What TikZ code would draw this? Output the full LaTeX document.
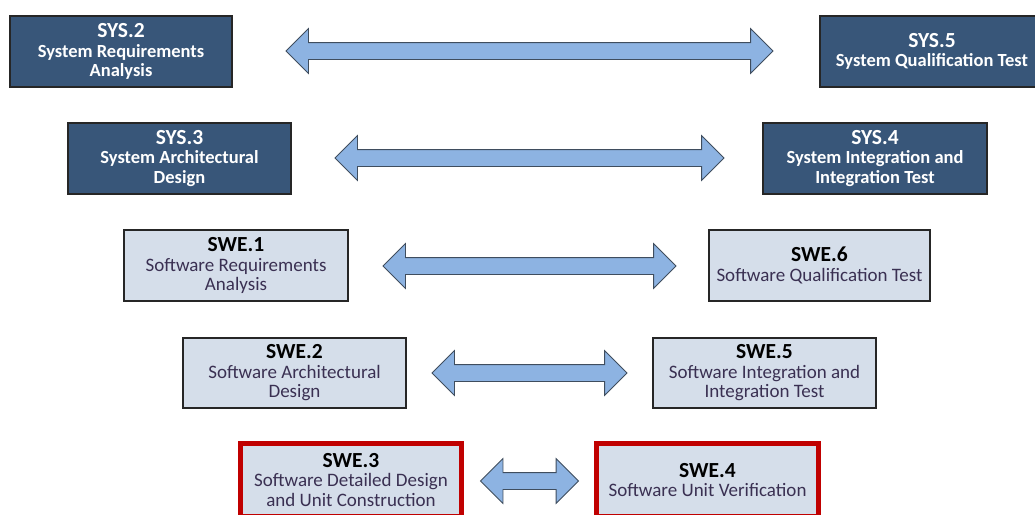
\documentclass[tikz,border=0pt]{standalone}
\usepackage{fontspec}
\setmainfont{Carlito}
\usetikzlibrary{shapes.arrows, positioning}
\definecolor{sysblue}{HTML}{385679}
\definecolor{swefill}{HTML}{D5DEEA}
\definecolor{arrowfill}{HTML}{8DB3E2}
\definecolor{arrowline}{HTML}{3F4D5E}
\definecolor{focusred}{HTML}{C00000}
\definecolor{swetext}{HTML}{3A3052}
\newcommand{\boxtitle}[1]{{\fontsize{21.5}{19.5}\selectfont\bfseries #1}}

\begin{document}
\begin{tikzpicture}[x=1pt, y=-1pt,
    box/.style={rectangle, draw=black!85, line width=1.4pt, minimum height=71pt, align=center, inner sep=0pt},
    sysbox/.style={box, fill=sysblue, text=white, font=\fontsize{18.5}{19.5}\selectfont\bfseries},
    swebox/.style={box, fill=swefill, text=swetext, font=\fontsize{19}{19.5}\selectfont},
    focus/.style={draw=focusred, line width=5pt},
    dblarrow/.style={double arrow, draw=arrowline, fill=arrowfill, line width=0.8pt, inner xsep=0pt, inner ysep=8pt, double arrow head extend=14pt, minimum height=#1}]
    \useasboundingbox (0,0) rectangle (1035,514);
    \clip (0,0) rectangle (1035,514);

    % system level
    \node[sysbox, minimum width=222pt] (sys2) at (121,51.5) {\boxtitle{SYS.2}\\System Requirements\\Analysis};
    \node[sysbox, minimum width=224pt] (sys5) at (932,51.5) {\boxtitle{SYS.5}\\System Qualification Test};
    \node[sysbox, minimum width=223pt] (sys3) at (179.5,158.5) {\boxtitle{SYS.3}\\System Architectural\\Design};
    \node[sysbox, minimum width=224pt] (sys4) at (875,158.5) {\boxtitle{SYS.4}\\System Integration and\\Integration Test};

    % software level
    \node[swebox, minimum width=224pt] (swe1) at (236,265.5) {\boxtitle{\color{black}SWE.1}\\Software Requirements\\Analysis};
    \node[swebox, minimum width=221pt] (swe6) at (819.5,265.5) {\boxtitle{\color{black}SWE.6}\\Software Qualification Test};
    \node[swebox, minimum width=223pt, minimum height=70pt] (swe2) at (294.5,373) {\boxtitle{\color{black}SWE.2}\\Software Architectural\\Design};
    \node[swebox, minimum width=223pt, minimum height=70pt] (swe5) at (764.5,373) {\boxtitle{\color{black}SWE.5}\\Software Integration and\\Integration Test};
    \node[swebox, focus, minimum width=221pt, minimum height=73pt] (swe3) at (351,480) {\boxtitle{\color{black}SWE.3}\\Software Detailed Design\\and Unit Construction};
    \node[swebox, focus, minimum width=222pt, minimum height=73pt] (swe4) at (707.5,480) {\boxtitle{\color{black}SWE.4}\\Software Unit Verification};

    % arrows between the two sides
    \foreach \n/\y/\len in {1/51/487, 2/158/389, 3/266/293, 4/373/195, 5/481/98}
        \node[dblarrow=\len pt] (arr\n) at (529.5,\y) {};
\end{tikzpicture}
\end{document}
